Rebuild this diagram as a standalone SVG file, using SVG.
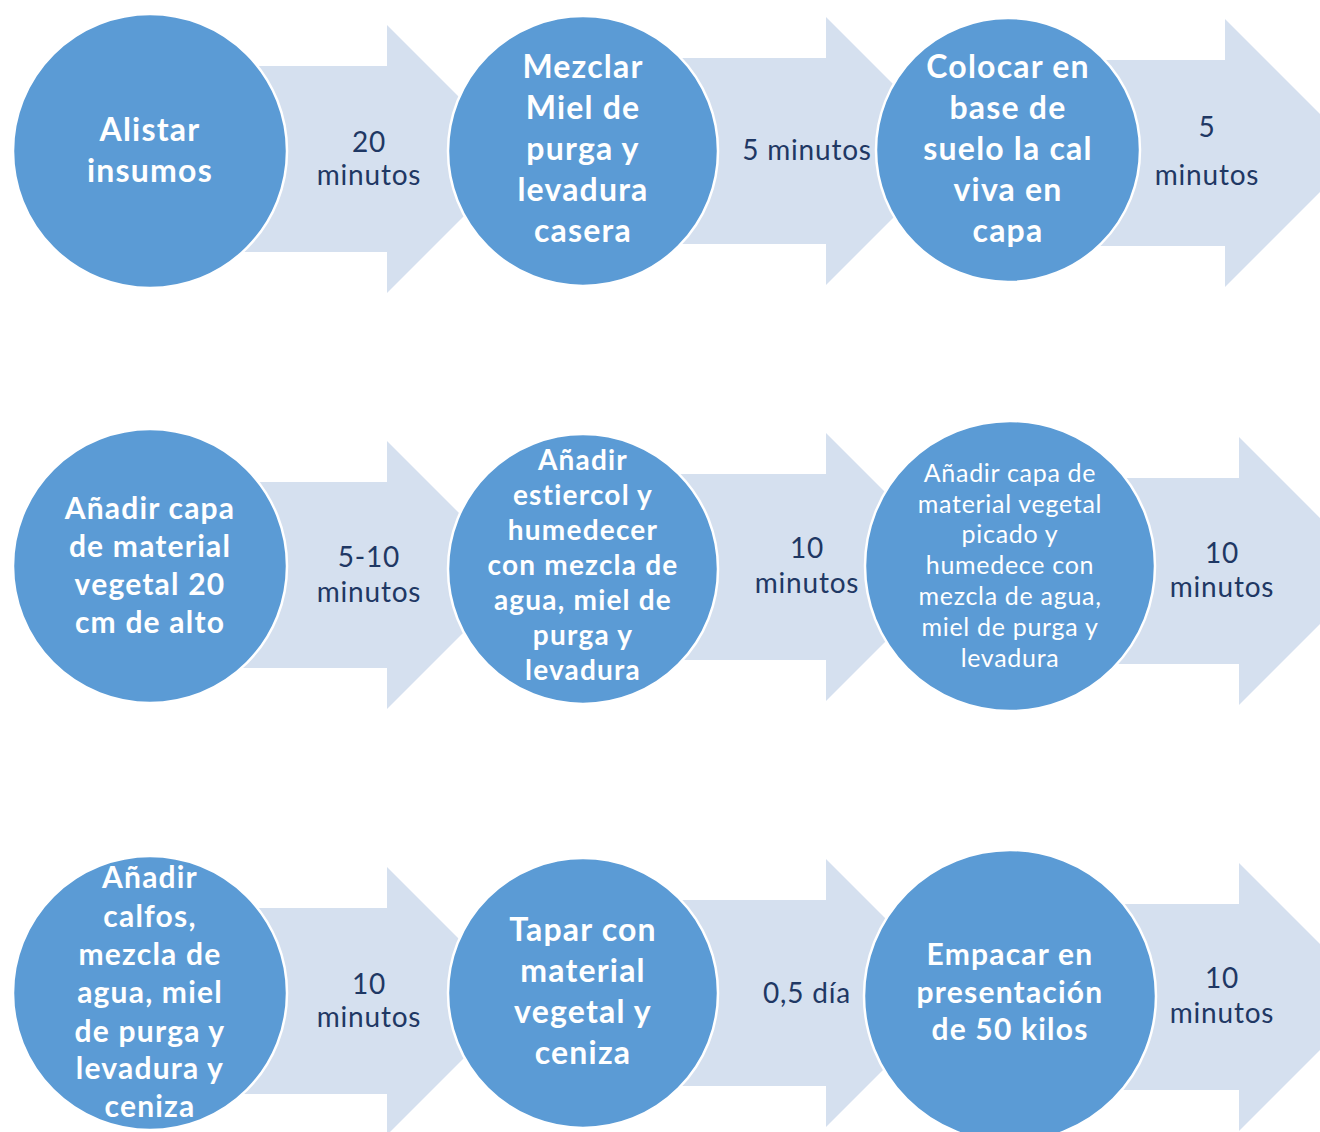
<svg xmlns="http://www.w3.org/2000/svg" xmlns:xlink="http://www.w3.org/1999/xlink" width="1320" height="1132" viewBox="0 0 1320 1132">
<defs>
<style>
.arrow{fill:#D5E0EF;}
.node{fill:#5B9BD5;stroke:#FFFFFF;stroke-width:2.5;}
.nt{font-family:Lato,"Liberation Sans",sans-serif;font-weight:bold;fill:#FFFFFF;text-anchor:middle;letter-spacing:1.2px;}
.ntr{font-family:Lato,"Liberation Sans",sans-serif;font-weight:normal;fill:#FFFFFF;text-anchor:middle;letter-spacing:0.7px;}
.lt{font-family:Lato,"Liberation Sans",sans-serif;font-size:28px;fill:#1F3864;text-anchor:middle;letter-spacing:0.8px;}
</style>
<path id="arr" d="M-200,-93 H0 V-134 L134,0 L0,134 V93 H-200 Z"/>
</defs>
<rect width="1320" height="1132" fill="#FFFFFF"/>
<g id="connectors">
<use xlink:href="#arr" href="#arr" class="arrow" x="387" y="159"/>
<use xlink:href="#arr" href="#arr" class="arrow" x="826" y="151"/>
<use xlink:href="#arr" href="#arr" class="arrow" x="1225" y="153"/>
<use xlink:href="#arr" href="#arr" class="arrow" x="387" y="575"/>
<use xlink:href="#arr" href="#arr" class="arrow" x="826" y="567"/>
<use xlink:href="#arr" href="#arr" class="arrow" x="1239" y="571"/>
<use xlink:href="#arr" href="#arr" class="arrow" x="387" y="1001"/>
<use xlink:href="#arr" href="#arr" class="arrow" x="826" y="993"/>
<use xlink:href="#arr" href="#arr" class="arrow" x="1239" y="997"/>
<text class="lt" x="369" y="152">20</text>
<text class="lt" x="369" y="185">minutos</text>
<text class="lt" x="807" y="160">5 minutos</text>
<text class="lt" x="1207" y="137">5</text>
<text class="lt" x="1207" y="185">minutos</text>
<text class="lt" x="369" y="567">5-10</text>
<text class="lt" x="369" y="602">minutos</text>
<text class="lt" x="807" y="558">10</text>
<text class="lt" x="807" y="593">minutos</text>
<text class="lt" x="1222" y="563">10</text>
<text class="lt" x="1222" y="597">minutos</text>
<text class="lt" x="369" y="994">10</text>
<text class="lt" x="369" y="1027">minutos</text>
<text class="lt" x="807" y="1003">0,5 día</text>
<text class="lt" x="1222" y="988">10</text>
<text class="lt" x="1222" y="1023">minutos</text>
</g>
<g id="n1">
<circle class="node" cx="150" cy="151" r="137"/>
<text class="nt" font-size="32" x="150" y="141">Alistar</text>
<text class="nt" font-size="32" x="150" y="182">insumos</text>
</g>
<g id="n2">
<circle class="node" cx="583" cy="151" r="135"/>
<text class="nt" font-size="32" x="583" y="78">Mezclar</text>
<text class="nt" font-size="32" x="583" y="119">Miel de</text>
<text class="nt" font-size="32" x="583" y="160">purga y</text>
<text class="nt" font-size="32" x="583" y="201">levadura</text>
<text class="nt" font-size="32" x="583" y="242">casera</text>
</g>
<g id="n3">
<circle class="node" cx="1008" cy="150" r="132"/>
<text class="nt" font-size="32" x="1008" y="78">Colocar en</text>
<text class="nt" font-size="32" x="1008" y="119">base de</text>
<text class="nt" font-size="32" x="1008" y="160">suelo la cal</text>
<text class="nt" font-size="32" x="1008" y="201">viva en</text>
<text class="nt" font-size="32" x="1008" y="242">capa</text>
</g>
<g id="n4">
<circle class="node" cx="150" cy="566" r="137"/>
<text class="nt" font-size="30" x="150" y="519">Añadir capa</text>
<text class="nt" font-size="30" x="150" y="557">de material</text>
<text class="nt" font-size="30" x="150" y="595">vegetal 20</text>
<text class="nt" font-size="30" x="150" y="633">cm de alto</text>
</g>
<g id="n5">
<circle class="node" cx="583" cy="569" r="135"/>
<text class="nt" font-size="28" x="583" y="470">Añadir</text>
<text class="nt" font-size="28" x="583" y="505">estiercol y</text>
<text class="nt" font-size="28" x="583" y="540">humedecer</text>
<text class="nt" font-size="28" x="583" y="575">con mezcla de</text>
<text class="nt" font-size="28" x="583" y="610">agua, miel de</text>
<text class="nt" font-size="28" x="583" y="645">purga y</text>
<text class="nt" font-size="28" x="583" y="680">levadura</text>
</g>
<g id="n6">
<circle class="node" cx="1010" cy="566" r="145"/>
<text class="ntr" font-size="25" x="1010" y="482">Añadir capa de</text>
<text class="ntr" font-size="25" x="1010" y="513">material vegetal</text>
<text class="ntr" font-size="25" x="1010" y="543">picado y</text>
<text class="ntr" font-size="25" x="1010" y="574">humedece con</text>
<text class="ntr" font-size="25" x="1010" y="605">mezcla de agua,</text>
<text class="ntr" font-size="25" x="1010" y="636">miel de purga y</text>
<text class="ntr" font-size="25" x="1010" y="667">levadura</text>
</g>
<g id="n7">
<circle class="node" cx="150" cy="993" r="137"/>
<text class="nt" font-size="30" x="150" y="888">Añadir</text>
<text class="nt" font-size="30" x="150" y="927">calfos,</text>
<text class="nt" font-size="30" x="150" y="965">mezcla de</text>
<text class="nt" font-size="30" x="150" y="1003">agua, miel</text>
<text class="nt" font-size="30" x="150" y="1042">de purga y</text>
<text class="nt" font-size="30" x="150" y="1079">levadura y</text>
<text class="nt" font-size="30" x="150" y="1117">ceniza</text>
</g>
<g id="n8">
<circle class="node" cx="583" cy="993" r="135"/>
<text class="nt" font-size="32" x="583" y="941">Tapar con</text>
<text class="nt" font-size="32" x="583" y="982">material</text>
<text class="nt" font-size="32" x="583" y="1023">vegetal y</text>
<text class="nt" font-size="32" x="583" y="1064">ceniza</text>
</g>
<g id="n9">
<circle class="node" cx="1010" cy="996" r="146"/>
<text class="nt" font-size="30" x="1010" y="965">Empacar en</text>
<text class="nt" font-size="30" x="1010" y="1003">presentación</text>
<text class="nt" font-size="30" x="1010" y="1040">de 50 kilos</text>
</g>
</svg>
